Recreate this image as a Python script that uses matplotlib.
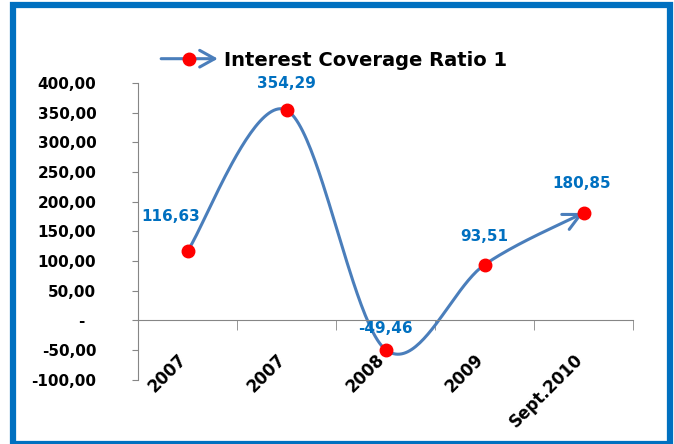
import matplotlib.pyplot as plt
import numpy as np
from matplotlib.patches import Rectangle, FancyArrowPatch
from matplotlib.lines import Line2D
from matplotlib.legend_handler import HandlerBase
from matplotlib.ticker import FuncFormatter
from matplotlib.transforms import ScaledTranslation

categories = ['2007', '2007', '2008', '2009', 'Sept.2010']
ratio = [116.63, 354.29, -49.46, 93.51, 180.85]
series_name = 'Interest Coverage Ratio 1'
# label offsets in points (dx, dy)
label_offsets = [(-12, 25), (0, 19.5), (0, 15), (0, 20), (-1, 21)]

line_col = '#4A7EBB'
blue = '#0070C0'
red = '#FF0000'


def smooth(xs, ys, n=50):
    # Excel-like smoothed line (Catmull-Rom through the points)
    px = np.concatenate([[xs[0]], xs, [xs[-1]]])
    py = np.concatenate([[ys[0]], ys, [ys[-1]]])
    outx, outy = [], []
    t = np.linspace(0, 1, n)[:, None]
    for i in range(1, len(px) - 2):
        p0, p1, p2, p3 = [np.array([px[j], py[j]]) for j in (i - 1, i, i + 1, i + 2)]
        c1 = p1 + (p2 - p0) / 6
        c2 = p2 - (p3 - p1) / 6
        b = (1 - t) ** 3 * p1 + 3 * (1 - t) ** 2 * t * c1 + 3 * (1 - t) * t ** 2 * c2 + t ** 3 * p2
        outx.extend(b[:, 0]); outy.extend(b[:, 1])
    return np.array(outx), np.array(outy)


class ArrowHandler(HandlerBase):
    def create_artists(self, legend, orig, xdescent, ydescent, width, height, fontsize, trans):
        y = height / 2 - ydescent
        arr = FancyArrowPatch((-xdescent, y), (width - xdescent, y),
                              arrowstyle='->,head_length=0.9,head_width=0.5', mutation_scale=12,
                              color=line_col, lw=2.2, transform=trans)
        m = Line2D([width * 0.5 - xdescent], [y], marker='o', color=red, markersize=9,
                   linestyle='none', transform=trans)
        return [arr, m]


fig = plt.figure(figsize=(6.74, 4.44), dpi=100)
fig.patches.append(Rectangle((13 / 674, 0.0), 657 / 674, 1 - 5 / 444, transform=fig.transFigure,
                             fill=False, edgecolor=blue, linewidth=4.5, zorder=10))

ax = fig.add_axes([138 / 674, 1 - 379.5 / 444, 495 / 674, 296.5 / 444])
ax.set_xlim(0, 5)
ax.set_ylim(-100, 400)
x = np.arange(len(ratio)) + 0.5

sx, sy = smooth(x, np.array(ratio))
ax.plot(sx, sy, color=line_col, lw=2.2, solid_capstyle='round', zorder=2)
ax.annotate('', xy=(sx[-1], sy[-1]), xytext=(sx[-6], sy[-6]),
            arrowprops=dict(arrowstyle='->,head_length=1.2,head_width=0.6', color=line_col, lw=2.2,
                            shrinkA=0, shrinkB=0), zorder=2)
ax.plot(x, ratio, 'o', color=red, markersize=9, zorder=3)

for xi, v, (dx, dy) in zip(x, ratio, label_offsets):
    ax.annotate(f'{v:.2f}'.replace('.', ','), (xi, v), xytext=(dx, dy), textcoords='offset points',
                ha='center', va='center', color=blue, fontsize=11, fontweight='bold')

ax.set_yticks(np.arange(-100, 401, 50))
ax.yaxis.set_major_formatter(FuncFormatter(lambda v, p: '-  ' if v == 0 else f'{v:.2f}'.replace('.', ',')))
ax.tick_params(axis='y', length=4, color='#868686', pad=26, labelsize=11)
for lab in ax.get_yticklabels():
    lab.set_fontweight('bold')

ax.spines['bottom'].set_position(('data', 0))
ax.spines[['top', 'right']].set_visible(False)
for s in ('left', 'bottom'):
    ax.spines[s].set_color('#868686')
ax.set_xticks(np.arange(0, 6), minor=True)
ax.tick_params(axis='x', which='minor', length=7, color='#868686')
ax.set_xticks(x)
ax.set_xticklabels(categories, rotation=45, ha='right', rotation_mode='anchor',
                   fontsize=12, fontweight='bold')
ax.tick_params(axis='x', which='major', length=0, pad=22)
for lab in ax.get_xticklabels():
    lab.set_transform(lab.get_transform() + ScaledTranslation(-10 / 100, 0, fig.dpi_scale_trans))

handle = Line2D([], [])
fig.legend([handle], [series_name], loc='center', bbox_to_anchor=(333 / 674, 1 - 60 / 444),
           frameon=False, prop={'size': 14, 'weight': 'bold'}, handlelength=3.2, handletextpad=0.2,
           handler_map={handle: ArrowHandler()})

plt.savefig('out.png')
